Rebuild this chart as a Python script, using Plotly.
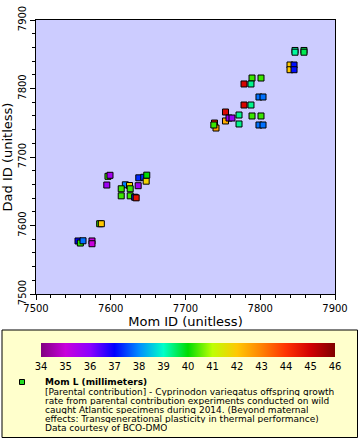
import plotly.graph_objects as go

# ---- data ----
mom_id = [7556.2, 7559.3, 7562.9, 7574.9, 7574.9, 7585.2, 7587.4,
          7596.3, 7599.0, 7594.7, 7619.5, 7625.1, 7614.0, 7626.0, 7614.0, 7626.0,
          7632.0, 7634.0, 7637.5, 7644.1, 7647.4, 7648.2, 7636.7,
          7846.5, 7846.5, 7858.5, 7858.5, 7839.8, 7839.8, 7845.2, 7845.2,
          7789.0, 7801.0, 7778.3, 7787.6, 7798.3, 7803.7, 7778.3, 7787.6,
          7753.5, 7753.5, 7758.2, 7762.2, 7771.6, 7771.6, 7789.0, 7801.0,
          7798.3, 7803.7, 7738.8, 7740.8, 7737.9]
dad_id = [7577.4, 7574.4, 7577.7, 7577.4, 7573.4, 7602.6, 7602.6,
          7671.8, 7673.3, 7659.1, 7659.4, 7658.4, 7653.6, 7653.6, 7643.3, 7643.3,
          7641.3, 7640.4, 7669.6, 7670.4, 7664.7, 7673.5, 7658.1,
          7855.5, 7853.0, 7855.5, 7853.0, 7834.3, 7827.4, 7834.3, 7827.4,
          7815.3, 7815.3, 7806.6, 7806.6, 7787.6, 7787.6, 7775.9, 7775.9,
          7765.7, 7752.6, 7756.9, 7756.9, 7761.3, 7748.2, 7759.9, 7759.9,
          7746.7, 7746.7, 7749.6, 7742.3, 7746.7]
mom_l = [37.0, 40.2, 37.8, 35.0, 35.0, 40.3, 42.0,
         40.3, 35.6, 35.7, 37.9, 41.8, 40.3, 40.3, 40.3, 40.3,
         37.3, 44.6, 37.3, 37.3, 41.8, 40.0, 35.7,
         39.2, 39.2, 39.6, 39.6, 42.0, 42.0, 37.1, 37.1,
         40.3, 40.3, 44.9, 39.3, 37.8, 37.8, 44.9, 39.3,
         44.8, 42.4, 35.8, 35.8, 39.3, 39.3, 40.3, 40.3,
         37.8, 37.8, 44.6, 42.6, 40.3]

cbar_ticks = list(range(34, 47))

legend_lines = [
    "[Parental contribution] - Cyprinodon variegatus offspring growth",
    "rate from parental contribution experiments conducted on wild",
    "caught Atlantic specimens during 2014. (Beyond maternal",
    "effects: Transgenerational plasticity in thermal performance)",
    "Data courtesy of BCO-DMO",
]
legend_title = "Mom L (millimeters)"

# ---- style ----
W, H = 360, 440
L, R, T, B = 36, 25, 20, 146
PW, PH = W - L - R, H - T - B


def px_x(px):
    return (px - L) / PW


def px_y(py):
    return (H - B - py) / PH


cmin, cmax = 34, 46
stops = [
    (34, "rgb(128,0,128)"), (35, "rgb(200,0,220)"), (36, "rgb(140,0,255)"),
    (37, "rgb(0,0,255)"), (38, "rgb(0,140,255)"), (39, "rgb(0,255,200)"),
    (40, "rgb(0,220,0)"), (41, "rgb(190,255,0)"), (42, "rgb(255,200,0)"),
    (43, "rgb(255,130,0)"), (44, "rgb(255,50,0)"), (45, "rgb(210,0,0)"),
    (46, "rgb(128,0,0)"),
]
colorscale = [[(v - cmin) / (cmax - cmin), c] for v, c in stops]

FONT = "DejaVu Sans"

fig = go.Figure()
fig.add_trace(go.Scatter(
    x=mom_id, y=dad_id, mode="markers",
    marker=dict(
        symbol="square", size=6, color=mom_l, cmin=cmin, cmax=cmax,
        colorscale=colorscale, line=dict(color="black", width=1),
        showscale=True,
        colorbar=dict(
            orientation="h", xref="paper", yref="container",
            x=px_x(188), xanchor="center", y=(H - 343) / H, yanchor="top",
            len=294, lenmode="pixels", thickness=14, thicknessmode="pixels",
            xpad=0, ypad=0, outlinewidth=0,
            tickvals=cbar_ticks, ticktext=[str(t) for t in cbar_ticks],
            ticks="", tickfont=dict(family=FONT, size=10, color="black"),
        ),
    ),
    showlegend=False, hoverinfo="x+y",
))

axis_common = dict(
    range=[7500, 7900], dtick=100, tick0=7500, ticks="outside", ticklen=5,
    tickcolor="black", showline=True, linecolor="black", linewidth=1,
    mirror=True, showgrid=False, zeroline=False,
    tickfont=dict(family=FONT, size=10, color="black"),
    minor=dict(dtick=20, ticks="outside", ticklen=3, tickcolor="black"),
    automargin=False,
)

fig.update_layout(
    width=W, height=H,
    margin=dict(l=L, r=R, t=T, b=B),
    paper_bgcolor="white", plot_bgcolor="#ccccff",
    font=dict(family=FONT, color="black"),
    xaxis=dict(axis_common, title=dict(text="Mom ID (unitless)",
               font=dict(family=FONT, size=13), standoff=2)),
    yaxis=dict(axis_common, tickangle=-90,
               title=dict(text="Dad ID (unitless)",
                          font=dict(family=FONT, size=13), standoff=6)),
)

# legend box
fig.add_shape(type="rect", xref="paper", yref="paper",
              x0=px_x(2), x1=px_x(357.5), y0=px_y(437.5), y1=px_y(330),
              fillcolor="#ffffcc", line=dict(color="black", width=1), layer="below")
# legend marker
fig.add_shape(type="rect", xref="paper", yref="paper",
              x0=px_x(19.5), x1=px_x(24.5), y0=px_y(384.5), y1=px_y(379.5),
              fillcolor="#22dd22", line=dict(color="black", width=1))

fig.add_annotation(xref="paper", yref="paper", x=px_x(42.5), y=px_y(381.5),
                   xanchor="left", yanchor="middle", showarrow=False, height=9,
                   text="<b>" + legend_title + "</b>",
                   font=dict(family=FONT, size=9, color="black"))
for i, line in enumerate(legend_lines):
    fig.add_annotation(xref="paper", yref="paper", x=px_x(42.5),
                       y=px_y(391 + 9.1 * i), xanchor="left", yanchor="middle",
                       showarrow=False, text=line, height=9,
                       font=dict(family=FONT, size=9, color="black"))

fig.write_html("out.html", config={"displayModeBar": False},
               post_script="document.body.style.margin='0';")
